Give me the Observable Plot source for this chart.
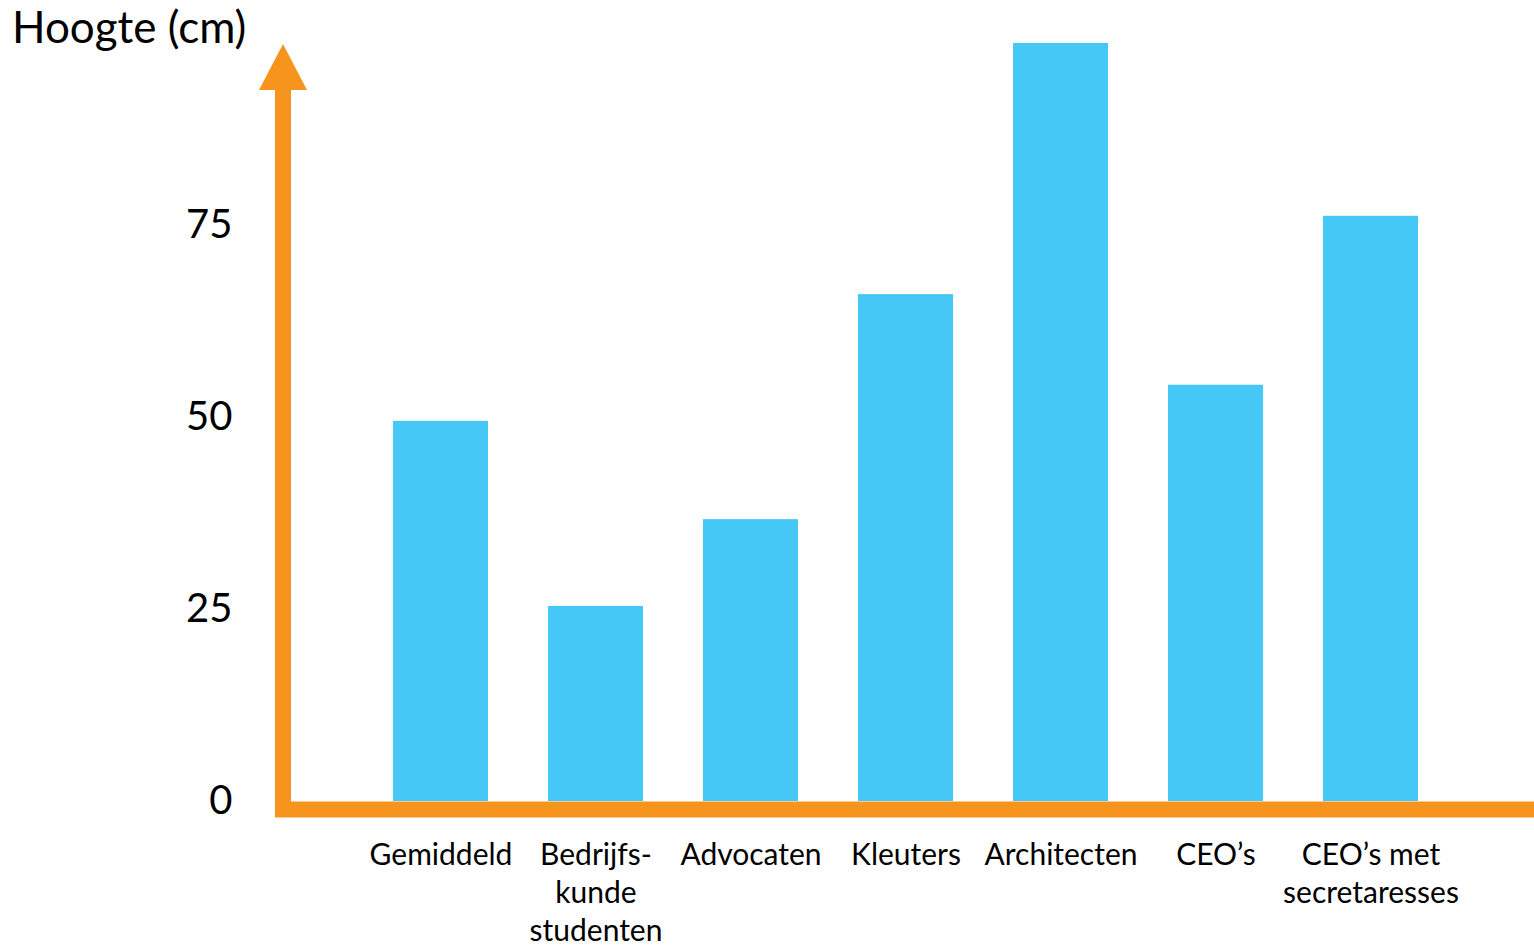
<!DOCTYPE html>
<html>
<head>
<meta charset="utf-8">
<script src="https://cdn.jsdelivr.net/npm/d3@7"></script>
<script src="https://cdn.jsdelivr.net/npm/@observablehq/plot@0.6"></script>
<style>
  html, body { margin: 0; padding: 0; background: #fff; }
  #wrap { position: relative; width: 1534px; height: 945px; overflow: hidden; }
  #title { position: absolute; left: 12px; top: 4px; font-family: Lato, sans-serif; font-size: 44px; line-height: 1; color: #000; white-space: nowrap; }
</style>
</head>
<body>
<div id="wrap">
  <div id="title">Hoogte (cm)</div>
</div>
<script>
const categories = ["Gemiddeld", "Bedrijfskunde studenten", "Advocaten", "Kleuters", "Architecten", "CEO’s", "CEO’s met secretaresses"];
const labels = ["Gemiddeld", "Bedrijfs-\nkunde\nstudenten", "Advocaten", "Kleuters", "Architecten", "CEO’s", "CEO’s met\nsecretaresses"];
const values = [49.5, 25.4, 36.7, 66.0, 98.7, 54.2, 76.2];
const yTicks = [0, 25, 50, 75];

const blue = "#45C8F5";
const orange = "#F7941D";

const data = categories.map((c, i) => ({category: c, label: labels[i], value: values[i]}));

const axisArrow = (index, scales, values, dimensions) => {
  const {marginLeft, marginTop, height, marginBottom} = dimensions;
  const cx = marginLeft + 8;
  const yBottom = height - marginBottom + 16;
  const tip = marginTop + 11;
  const base = marginTop + 57;
  const g = d3.create("svg:g").attr("fill", orange);
  g.append("rect").attr("x", marginLeft).attr("y", base - 1).attr("width", 16).attr("height", yBottom - base + 1);
  g.append("path").attr("d", `M${cx},${tip}L${cx + 24},${base}L${cx - 24},${base}Z`);
  return g.node();
};

const chart = Plot.plot({
  width: 1534,
  height: 945,
  marginLeft: 275,
  marginRight: 0,
  marginTop: 33,
  marginBottom: 144,
  style: {fontFamily: "Lato, sans-serif", background: "#fff", color: "#000"},
  x: {domain: categories, range: [362.4, 1448.6], paddingInner: 0.388, paddingOuter: 0.194, axis: null},
  y: {domain: [0, 100], axis: null},
  marks: [
    Plot.barY(data, {x: "category", y: "value", fill: blue}),
    Plot.axisY({ticks: yTicks, tickSize: 0, tickPadding: 43, fontSize: 40, tickFormat: d => String(d), fill: "#000", label: null}),
    Plot.text(data, {x: "category", y: () => 0, text: "label", lineAnchor: "top", dy: 36, lineHeight: 1.27, fontSize: 30, fill: "#000", textAnchor: "middle"}),
    Plot.ruleY([0], {stroke: orange, strokeWidth: 16, dy: 8}),
    axisArrow
  ]
});
document.getElementById("wrap").appendChild(chart);
</script>
</body>
</html>
